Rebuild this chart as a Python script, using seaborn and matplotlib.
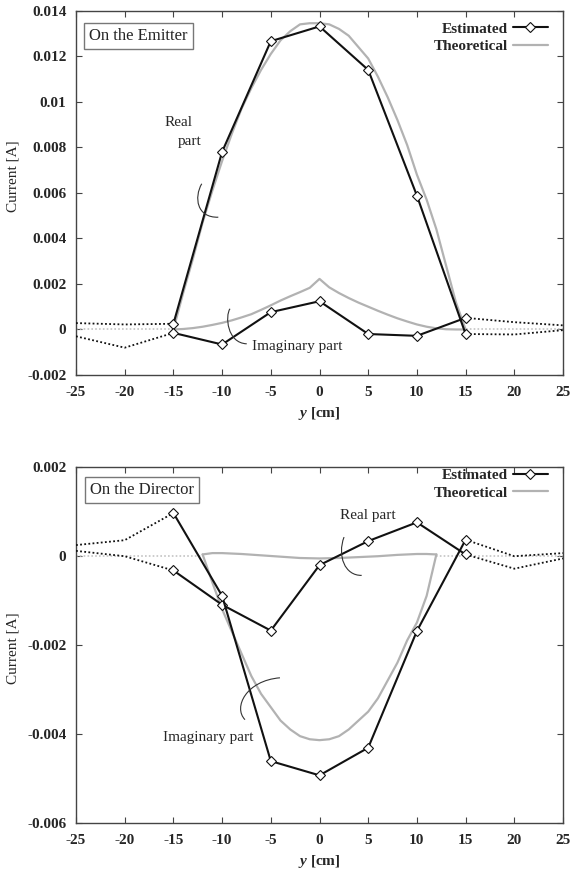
import numpy as np
import pandas as pd
import matplotlib
matplotlib.use('Agg')
import matplotlib.pyplot as plt
import seaborn as sns
from matplotlib.path import Path
from matplotlib.patches import PathPatch
from matplotlib.ticker import FuncFormatter, FixedLocator

# ---------------- data ----------------
x_est = [-15, -10, -5, 0, 5, 10, 15]
x_out_left = [-25, -20, -15]
x_out_right = [15, 20, 25]

# Emitter
em_est_real = [0.00025, 0.0078, 0.01266, 0.01331, 0.0114, 0.00588, -0.0002]
em_est_imag = [-0.00015, -0.00066, 0.00076, 0.00124, -0.0002, -0.00028, 0.00051]
em_out_left_real = [0.00028, 0.00022, 0.00025]
em_out_left_imag = [-0.0003, -0.0008, -0.00015]
em_out_right_real = [-0.0002, -0.00022, -0.00003]
em_out_right_imag = [0.00051, 0.00032, 0.00018]

em_theo_x = list(range(-15, 16))
em_theo_real = [0, 0.0016, 0.0031, 0.0047, 0.0061, 0.0074, 0.0086, 0.0097, 0.0106,
                0.0114, 0.0121, 0.0127, 0.0131, 0.0134, 0.01345, 0.01345,
                0.0134, 0.0132, 0.0129, 0.0124, 0.0119, 0.0111, 0.0102, 0.0092,
                0.0081, 0.0068, 0.0057, 0.0044, 0.0028, 0.0012, 0]
em_theo_imag = [0, 0.00002, 0.00006, 0.00012, 0.0002, 0.00029, 0.0004, 0.00053,
                0.00067, 0.00086, 0.00106, 0.00127, 0.00146, 0.00164, 0.00183, 0.00222,
                0.00185, 0.0016, 0.00138, 0.00118, 0.001, 0.00082, 0.00065, 0.00049,
                0.00035, 0.00022, 0.00012, 0.00005, 0.00001, 0, 0]
em_zero_left = [-25, -15]
em_zero_right = [15, 25]

# Director
di_est_real = [-0.00033, -0.0011, -0.00168, -0.00021, 0.00033, 0.00075, 0.00003]
di_est_imag = [0.00096, -0.0009, -0.00461, -0.00493, -0.00431, -0.00169, 0.00036]
di_out_left_real = [0.00011, -0.00001, -0.00033]
di_out_left_imag = [0.00024, 0.00035, 0.00096]
di_out_right_real = [0.00003, -0.00029, -0.00006]
di_out_right_imag = [0.00036, -0.00001, 0.00006]

di_theo_real_x = [-12, -11, -10, -8, -6, -4, -2, 0, 2, 4, 6, 8, 10, 11, 12]
di_theo_real = [0.00003, 0.00006, 0.00006, 0.00004, 0.00001, -0.00002, -0.00005,
                -0.00006, -0.00005, -0.00003, -0.00001, 0.00002, 0.00004, 0.00004, 0.00003]
di_theo_imag_x = list(range(-12, 13))
di_theo_imag = [0.00003, -0.0006, -0.0012, -0.0017, -0.0022, -0.0027, -0.0031, -0.0034,
                -0.0037, -0.0039, -0.00405, -0.00412, -0.00414, -0.00412, -0.00405,
                -0.0039, -0.0037, -0.0035, -0.0032, -0.0028, -0.0024, -0.0019,
                -0.0015, -0.0009, 0.00003]
di_zero_left = [-25, -12]
di_zero_right = [12, 25]

x_ticks = [-25, -20, -15, -10, -5, 0, 5, 10, 15, 20, 25]
em_yticks = [-0.002, 0, 0.002, 0.004, 0.006, 0.008, 0.01, 0.012, 0.014]
di_yticks = [-0.006, -0.004, -0.002, 0, 0.002]

# ---------------- style ----------------
sns.set_style('ticks')
plt.rcParams['font.family'] = ['Liberation Serif', 'DejaVu Serif']
plt.rcParams['mathtext.fontset'] = 'custom'
plt.rcParams['mathtext.rm'] = 'Liberation Serif'
plt.rcParams['mathtext.it'] = 'Liberation Serif:italic'
plt.rcParams['mathtext.bf'] = 'Liberation Serif:bold'
plt.rcParams['mathtext.bfit'] = 'Liberation Serif:italic:bold'

GRAY = '#b2b2b2'
LGRAY = '#c4c4c4'
BLACK = '#111111'

W, H = 571, 875
fig = plt.figure(figsize=(W / 100, H / 100), dpi=100)


def fig_rect(l, t, r, b):
    return [l / W, 1 - b / H, (r - l) / W, (b - t) / H]


ax1 = fig.add_axes(fig_rect(76, 10.7, 563, 375))
ax2 = fig.add_axes(fig_rect(76, 466.7, 563, 823))


def arc(ax, pts):
    codes = [Path.MOVETO, Path.CURVE4, Path.CURVE4, Path.CURVE4]
    p = PathPatch(Path(pts, codes), fill=False, edgecolor='#333333', lw=0.8,
                  transform=ax.transData, zorder=6)
    ax.add_patch(p)


def est(ax, x, y, label=None):
    sns.lineplot(x=x, y=y, ax=ax, color=BLACK, lw=1.5, marker='D', markersize=5,
                 markerfacecolor='white', markeredgecolor=BLACK, markeredgewidth=0.8,
                 estimator=None, sort=False, label=label, zorder=5, legend=False)
    return ax.lines[-1]


def dotted(ax, x, y):
    sns.lineplot(x=x, y=y, ax=ax, color=BLACK, lw=1.3, estimator=None, sort=False,
                 legend=False, zorder=4, linestyle=(0, (1, 1.3)))


def theo(ax, x, y, label=None):
    sns.lineplot(x=x, y=y, ax=ax, color=GRAY, lw=1.6, estimator=None, sort=False,
                 label=label, legend=False, zorder=3)
    return ax.lines[-1]


def zero(ax, x):
    sns.lineplot(x=x, y=[0] * len(x), ax=ax, color=LGRAY, lw=1.2, estimator=None,
                 sort=False, legend=False, zorder=2, linestyle=(0, (1, 1.3)))


def style(ax, yticks, ylim, label_y):
    ax.set_xlim(-25, 25)
    ax.set_ylim(*ylim)
    ax.xaxis.set_major_locator(FixedLocator(x_ticks))
    ax.yaxis.set_major_locator(FixedLocator(yticks))
    ax.yaxis.set_major_formatter(FuncFormatter(lambda v, p: '0' if abs(v) < 1e-12 else ('%g' % v)))
    ax.xaxis.set_major_formatter(FuncFormatter(lambda v, p: '%d' % v))
    ax.tick_params(direction='in', top=True, right=True, length=4, width=0.8,
                   color='#444444', labelsize=11)
    ax.tick_params(axis='x', pad=8)
    ax.tick_params(axis='y', pad=7)
    for lab in ax.get_xticklabels() + ax.get_yticklabels():
        lab.set_fontweight('bold')
    for sp in ax.spines.values():
        sp.set_color('#444444')
        sp.set_linewidth(1.0)
        sp.set_visible(True)
    ax.set_xlabel(r'$\mathbfit{y}$ [cm]', fontsize=11, fontweight='bold', labelpad=4)
    ax.set_ylabel('Current [A]', fontsize=11)
    ax.yaxis.set_label_coords(-0.115, label_y)


# ----- Emitter -----
zero(ax1, em_zero_left)
zero(ax1, em_zero_right)
h_theo = theo(ax1, em_theo_x, em_theo_real, 'Theoretical')
theo(ax1, em_theo_x, em_theo_imag)
dotted(ax1, x_out_left, em_out_left_real)
dotted(ax1, x_out_left, em_out_left_imag)
dotted(ax1, x_out_right, em_out_right_real)
dotted(ax1, x_out_right, em_out_right_imag)
h_est = est(ax1, x_est, em_est_real, 'Estimated')
est(ax1, x_est, em_est_imag)
style(ax1, em_yticks, (-0.002, 0.014), 0.545)

ax1.text(0.128, 0.9306, 'On the Emitter', transform=ax1.transAxes, ha='center', va='center',
         fontsize=12, bbox=dict(boxstyle='square,pad=0.3', fc='white', ec='#777777', lw=1))
ax1.text(-15.86, 0.00909, 'Real', fontsize=11, ha='left', va='center')
ax1.text(-14.53, 0.00826, 'part', fontsize=11, ha='left', va='center')
ax1.text(-6.93, -0.00075, 'Imaginary part', fontsize=11, ha='left', va='center')
arc(ax1, [(-12.09, 0.0064), (-12.9, 0.0058), (-12.6, 0.0049), (-10.39, 0.00493)])
arc(ax1, [(-9.19, 0.00091), (-9.7, 0.0006), (-9.5, -0.0006), (-7.47, -0.00063)])
ax1.legend(handles=[h_est, h_theo], labels=['Estimated', 'Theoretical'], loc='upper right',
           bbox_to_anchor=(0.969, 0.969), frameon=False, markerfirst=False,
           prop={'weight': 'bold', 'size': 11}, handlelength=2.3, handletextpad=0.3,
           labelspacing=0.25, borderpad=0, borderaxespad=0)

# ----- Director -----
zero(ax2, di_zero_left)
zero(ax2, di_zero_right)
h_theo2 = theo(ax2, di_theo_real_x, di_theo_real, 'Theoretical')
theo(ax2, di_theo_imag_x, di_theo_imag)
dotted(ax2, x_out_left, di_out_left_real)
dotted(ax2, x_out_left, di_out_left_imag)
dotted(ax2, x_out_right, di_out_right_real)
dotted(ax2, x_out_right, di_out_right_imag)
h_est2 = est(ax2, x_est, di_est_real, 'Estimated')
est(ax2, x_est, di_est_imag)
style(ax2, di_yticks, (-0.006, 0.002), 0.49)

ax2.text(0.1365, 0.936, 'On the Director', transform=ax2.transAxes, ha='center', va='center',
         fontsize=12, bbox=dict(boxstyle='square,pad=0.3', fc='white', ec='#777777', lw=1))
ax2.text(2.1, 0.00091, 'Real part', fontsize=11, ha='left', va='center')
ax2.text(-16.07, -0.00409, 'Imaginary part', fontsize=11, ha='left', va='center')
arc(ax2, [(2.52, 0.00042), (1.8, 0.0), (2.6, -0.00045), (4.33, -0.00044)])
arc(ax2, [(-4.06, -0.00274), (-7.5, -0.0028), (-8.9, -0.0034), (-7.65, -0.00368)])
ax2.legend(handles=[h_est2, h_theo2], labels=['Estimated', 'Theoretical'], loc='upper right',
           bbox_to_anchor=(0.969, 0.995), frameon=False, markerfirst=False,
           prop={'weight': 'bold', 'size': 11}, handlelength=2.3, handletextpad=0.3,
           labelspacing=0.25, borderpad=0, borderaxespad=0)

fig.savefig('out.png', dpi=100)
